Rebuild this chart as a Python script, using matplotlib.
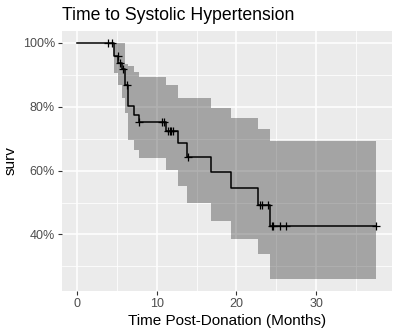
import numpy as np
import matplotlib
matplotlib.use('Agg')
import matplotlib.pyplot as plt

# Kaplan-Meier steps (months, survival %)
step_t = [0, 4.6, 5.2, 5.6, 6.0, 6.4, 7.1, 7.75, 11.2, 12.7, 13.8, 16.75, 19.25, 22.7, 24.25]
step_s = [100, 95.9, 93.8, 91.7, 86.8, 80.2, 77.5, 75.1, 72.5, 68.6, 64.3, 59.4, 54.4, 49.3, 42.5]
end_t = 37.5

# confidence band per step (same step times)
upper = [100, 100, 100, 100, 93.5, 92.7, 91.0, 89.4, 86.8, 82.6, 82.6, 79.7, 76.4, 72.9, 69.3]
lower = [100, 90.6, 86.8, 82.6, 77.9, 69.6, 66.5, 63.9, 60.2, 55.2, 50.0, 44.1, 38.7, 33.9, 26.2]

# censoring marks
cens_t = [3.95, 4.4, 5.1, 5.4, 5.8, 6.25, 7.8, 10.7, 10.9, 11.4, 11.6, 11.8, 12.0,
          13.95, 22.9, 23.2, 23.95, 24.4, 24.6, 25.4, 26.2, 37.5]

tt = np.array(step_t + [end_t])
ss = np.array(step_s + [step_s[-1]])
uu = np.array(upper + [upper[-1]])
ll = np.array(lower + [lower[-1]])

def surv_at(t):
    i = np.searchsorted(step_t, t, side='right') - 1
    return step_s[i]

plt.rcParams['font.family'] = ['Liberation Sans', 'DejaVu Sans']

fig = plt.figure(figsize=(4, 3.34), dpi=100)
ax = fig.add_axes([62/400, 1 - 291/334, 330/400, 260/334])
ax.set_facecolor('#EBEBEB')

ax.fill_between(tt, ll, uu, step='post', color='black', alpha=0.3, linewidth=0, zorder=2)
ax.step(tt, ss, where='post', color='black', linewidth=1.1, zorder=3)
ax.plot(cens_t, [surv_at(t) for t in cens_t], linestyle='none', marker='+',
        markersize=6, markeredgewidth=0.9, color='black', zorder=4)

ax.set_xlim(-1.88, 39.5)
ax.set_ylim(22.3, 103.7)
ax.set_xticks([0, 10, 20, 30])
ax.set_xticks([5, 15, 25, 35], minor=True)
ax.set_yticks([40, 60, 80, 100])
ax.set_yticklabels(['40%', '60%', '80%', '100%'])
ax.set_yticks([30, 50, 70, 90], minor=True)
ax.grid(which='major', color='white', linewidth=1.1, zorder=1)
ax.grid(which='minor', color='white', linewidth=0.55, zorder=1)
ax.set_axisbelow(True)
for sp in ax.spines.values():
    sp.set_visible(False)
ax.tick_params(which='major', length=3, width=0.8, color='#333333', labelcolor='#4D4D4D',
               labelsize=9, pad=2)
ax.tick_params(which='minor', length=0)

ax.set_xlabel('Time Post-Donation (Months)', fontsize=11, color='black', labelpad=3)
ax.set_ylabel('surv', fontsize=11, color='black', labelpad=4)
fig.text(62/400, 1 - 16/334, 'Time to Systolic Hypertension', fontsize=12.7,
         ha='left', va='center')

fig.savefig('out.png', dpi=100)
plt.close()
